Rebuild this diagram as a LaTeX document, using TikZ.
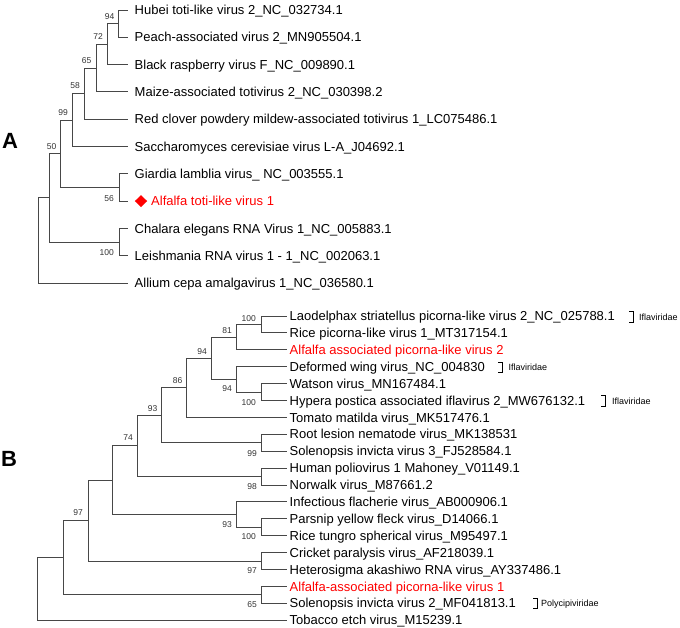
\documentclass[tikz,border=0pt]{standalone}
\usepackage{fontspec}
\setmainfont{Liberation Sans}
\usetikzlibrary{shapes.geometric}
\begin{document}
\begin{tikzpicture}[x=1pt,y=-1pt,
  br/.style={draw=black!72, line width=0.85pt, line join=miter},
  leaf/.style={anchor=west, inner sep=0pt, font=\fontsize{13}{15}\selectfont, text height=9.3pt, text depth=0pt},
  hl/.style={leaf, text=red},
  bs/.style={anchor=east, inner sep=0pt, font=\fontsize{8.5}{10}\selectfont, text=black!80, text height=6.1pt, text depth=0pt},
  fam/.style={anchor=west, inner sep=0pt, font=\fontsize{9}{10}\selectfont, text height=6.5pt, text depth=0pt},
  brk/.style={draw=black, line width=0.7pt},
  panel/.style={font=\fontsize{22}{24}\selectfont\bfseries, inner sep=0pt, text height=15.8pt, text depth=0pt}
]
\useasboundingbox (0,0) rectangle (680,627);

% ---------------- Tree A ----------------
\node[panel] (pA) at (10,141) {A};
% leaf ends
\coordinate (a0) at (128,10);
\coordinate (a1) at (128,37.3);
\coordinate (a2) at (128,64.6);
\coordinate (a3) at (128,91.9);
\coordinate (a4) at (128,119.2);
\coordinate (a5) at (128,146.5);
\coordinate (a6) at (128,173.8);
\coordinate (a7) at (128,201.1);
\coordinate (a8) at (128,228.4);
\coordinate (a9) at (128,255.7);
\coordinate (a10) at (128,283);
% internal nodes
\coordinate (n94) at (118,23.65);
\coordinate (n72) at (107,44.1);
\coordinate (n65) at (96,68.0);
\coordinate (n58) at (84,93.6);
\coordinate (n99) at (72,120.05);
\coordinate (n56) at (119,187.45);
\coordinate (n50) at (60,153.75);
\coordinate (nc) at (119,242.05);
\coordinate (nx) at (49,197.9);
\coordinate (rA) at (38,240.45);

\draw[br] (n94) |- (a0) (n94) |- (a1);
\draw[br] (n72) |- (n94) (n72) |- (a2);
\draw[br] (n65) |- (n72) (n65) |- (a3);
\draw[br] (n58) |- (n65) (n58) |- (a4);
\draw[br] (n99) |- (n58) (n99) |- (a5);
\draw[br] (n56) |- (a6) (n56) |- (a7);
\draw[br] (n50) |- (n99) (n50) |- (n56);
\draw[br] (nc) |- (a8) (nc) |- (a9);
\draw[br] (nx) |- (n50) (nx) |- (nc);
\draw[br] (rA) |- (nx) (rA) |- (a10);

% leaf labels
\node[leaf] (ta0) at (134.5,10) {Hubei toti-like virus 2\_NC\_032734.1};
\node[leaf] (ta1) at (134.5,37.3) {Peach-associated virus 2\_MN905504.1};
\node[leaf] (ta2) at (134.5,64.6) {Black raspberry virus F\_NC\_009890.1};
\node[leaf] (ta3) at (134.5,91.9) {Maize-associated totivirus 2\_NC\_030398.2};
\node[leaf] (ta4) at (134.5,119.2) {Red clover powdery mildew-associated totivirus 1\_LC075486.1};
\node[leaf] (ta5) at (134.5,146.5) {Saccharomyces cerevisiae virus L-A\_J04692.1};
\node[leaf] (ta6) at (134.5,173.8) {Giardia lamblia virus\_ NC\_003555.1};
\node[diamond, fill=red, inner sep=0pt, minimum width=12.5pt, minimum height=12pt] (dia) at (141,201.1) {};
\node[hl] (ta7) at (151,201.1) {Alfalfa toti-like virus 1};
\node[leaf] (ta8) at (134.5,228.4) {Chalara elegans RNA Virus 1\_NC\_005883.1};
\node[leaf] (ta9) at (134.5,255.7) {Leishmania RNA virus 1 - 1\_NC\_002063.1};
\node[leaf] (ta10) at (134.5,283) {Allium cepa amalgavirus 1\_NC\_036580.1};

% bootstrap A
\node[bs] (s94) at ([shift={(-3.5,-7.5)}]n94) {94};
\node[bs] (s72) at ([shift={(-4,-7.5)}]n72) {72};
\node[bs] (s65) at ([shift={(-4.5,-8)}]n65) {65};
\node[bs] (s58) at ([shift={(-4,-8)}]n58) {58};
\node[bs] (s99) at ([shift={(-4,-7.5)}]n99) {99};
\node[bs] (s50) at ([shift={(-3.5,-7.5)}]n50) {50};
\node[bs] (s56) at ([shift={(-5,10.5)}]n56) {56};
\node[bs] (s100) at ([shift={(-5,10.5)}]nc) {100};

% ---------------- Tree B ----------------
\node[panel] (pB) at (9,459) {B};
\coordinate (b0) at (287,316.0);
\coordinate (b1) at (287,332.9);
\coordinate (b2) at (287,349.8);
\coordinate (b3) at (287,366.7);
\coordinate (b4) at (287,383.6);
\coordinate (b5) at (287,400.5);
\coordinate (b6) at (287,417.4);
\coordinate (b7) at (287,434.3);
\coordinate (b8) at (287,451.2);
\coordinate (b9) at (287,468.1);
\coordinate (b10) at (287,485.0);
\coordinate (b11) at (287,501.9);
\coordinate (b12) at (287,518.8);
\coordinate (b13) at (287,535.7);
\coordinate (b14) at (287,552.6);
\coordinate (b15) at (287,569.5);
\coordinate (b16) at (287,586.4);
\coordinate (b17) at (287,603.3);
\coordinate (b18) at (287,620.2);

\coordinate (m100a) at (261,324.45);
\coordinate (m81) at (236,337.1);
\coordinate (m100b) at (261,392.05);
\coordinate (m94b) at (236,379.4);
\coordinate (m94a) at (211,358.25);
\coordinate (m86) at (186,387.8);
\coordinate (m99) at (261,442.75);
\coordinate (m93a) at (161,415.3);
\coordinate (m98) at (261,476.55);
\coordinate (m74) at (137,445.9);
\coordinate (m100c) at (261,527.25);
\coordinate (m93b) at (236,514.6);
\coordinate (mU) at (112,480.25);
\coordinate (m97a) at (261,561.05);
\coordinate (m97) at (88,520.65);
\coordinate (m65) at (261,594.85);
\coordinate (mV) at (63,557.75);
\coordinate (rB) at (37,589);

\draw[br] (m100a) |- (b0) (m100a) |- (b1);
\draw[br] (m81) |- (m100a) (m81) |- (b2);
\draw[br] (m100b) |- (b4) (m100b) |- (b5);
\draw[br] (m94b) |- (b3) (m94b) |- (m100b);
\draw[br] (m94a) |- (m81) (m94a) |- (m94b);
\draw[br] (m86) |- (m94a) (m86) |- (b6);
\draw[br] (m99) |- (b7) (m99) |- (b8);
\draw[br] (m93a) |- (m86) (m93a) |- (m99);
\draw[br] (m98) |- (b9) (m98) |- (b10);
\draw[br] (m74) |- (m93a) (m74) |- (m98);
\draw[br] (m100c) |- (b12) (m100c) |- (b13);
\draw[br] (m93b) |- (b11) (m93b) |- (m100c);
\draw[br] (mU) |- (m74) (mU) |- (m93b);
\draw[br] (m97a) |- (b14) (m97a) |- (b15);
\draw[br] (m97) |- (mU) (m97) |- (m97a);
\draw[br] (m65) |- (b16) (m65) |- (b17);
\draw[br] (mV) |- (m97) (mV) |- (m65);
\draw[br] (rB) |- (mV) (rB) |- (b18);

\node[leaf] (tb0) at (289.5,316.0) {Laodelphax striatellus picorna-like virus 2\_NC\_025788.1};
\node[leaf] (tb1) at (289.5,332.9) {Rice picorna-like virus 1\_MT317154.1};
\node[hl] (tb2) at (289.5,349.8) {Alfalfa associated picorna-like virus 2};
\node[leaf] (tb3) at (289.5,366.7) {Deformed wing virus\_NC\_004830};
\node[leaf] (tb4) at (289.5,383.6) {Watson virus\_MN167484.1};
\node[leaf] (tb5) at (289.5,400.5) {Hypera postica associated iflavirus 2\_MW676132.1};
\node[leaf] (tb6) at (289.5,417.4) {Tomato matilda virus\_MK517476.1};
\node[leaf] (tb7) at (289.5,434.3) {Root lesion nematode virus\_MK138531};
\node[leaf] (tb8) at (289.5,451.2) {Solenopsis invicta virus 3\_FJ528584.1};
\node[leaf] (tb9) at (289.5,468.1) {Human poliovirus 1 Mahoney\_V01149.1};
\node[leaf] (tb10) at (289.5,485.0) {Norwalk virus\_M87661.2};
\node[leaf] (tb11) at (289.5,501.9) {Infectious flacherie virus\_AB000906.1};
\node[leaf] (tb12) at (289.5,518.8) {Parsnip yellow fleck virus\_D14066.1};
\node[leaf] (tb13) at (289.5,535.7) {Rice tungro spherical virus\_M95497.1};
\node[leaf] (tb14) at (289.5,552.6) {Cricket paralysis virus\_AF218039.1};
\node[leaf] (tb15) at (289.5,569.5) {Heterosigma akashiwo RNA virus\_AY337486.1};
\node[hl] (tb16) at (289.5,586.4) {Alfalfa-associated picorna-like virus 1};
\node[leaf] (tb17) at (289.5,603.3) {Solenopsis invicta virus 2\_MF041813.1};
\node[leaf] (tb18) at (289.5,620.2) {Tobacco etch virus\_M15239.1};

% bootstrap B
\node[bs] (u100a) at ([shift={(-5,-6.5)}]m100a) {100};
\node[bs] (u81) at ([shift={(-4,-6.5)}]m81) {81};
\node[bs] (u94a) at ([shift={(-4,-6.5)}]m94a) {94};
\node[bs] (u86) at ([shift={(-3.5,-7)}]m86) {86};
\node[bs] (u93a) at ([shift={(-3.5,-7)}]m93a) {93};
\node[bs] (u74) at ([shift={(-4,-8)}]m74) {74};
\node[bs] (u94b) at ([shift={(-4,9.5)}]m94b) {94};
\node[bs] (u100b) at ([shift={(-5,10.5)}]m100b) {100};
\node[bs] (u99) at ([shift={(-4,10.5)}]m99) {99};
\node[bs] (u98) at ([shift={(-4,9.5)}]m98) {98};
\node[bs] (u93b) at ([shift={(-4,9.5)}]m93b) {93};
\node[bs] (u100c) at ([shift={(-5,9.5)}]m100c) {100};
\node[bs] (u97) at ([shift={(-5,-8)}]m97) {97};
\node[bs] (u97a) at ([shift={(-4,9)}]m97a) {97};
\node[bs] (u65) at ([shift={(-4,9.5)}]m65) {65};

% family brackets
\node[fam] (f1) at (639,317) {Iflaviridae};
\draw[brk] ([shift={(-10,-5.5)}]f1.west) -- ([shift={(-6,-5.5)}]f1.west) -- ([shift={(-6,5.5)}]f1.west) -- ([shift={(-10,5.5)}]f1.west);
\node[fam] (f2) at (508.5,367.5) {Iflaviridae};
\draw[brk] ([shift={(-10.5,-5)}]f2.west) -- ([shift={(-6.5,-5)}]f2.west) -- ([shift={(-6.5,5)}]f2.west) -- ([shift={(-10.5,5)}]f2.west);
\node[fam] (f3) at (612,401) {Iflaviridae};
\draw[brk] ([shift={(-11,-5.5)}]f3.west) -- ([shift={(-7,-5.5)}]f3.west) -- ([shift={(-7,5.5)}]f3.west) -- ([shift={(-11,5.5)}]f3.west);
\node[fam] (f4) at (541,603) {Polycipiviridae};
\draw[brk] ([shift={(-8,-5)}]f4.west) -- ([shift={(-4,-5)}]f4.west) -- ([shift={(-4,5)}]f4.west) -- ([shift={(-8,5)}]f4.west);
\end{tikzpicture}
\end{document}
